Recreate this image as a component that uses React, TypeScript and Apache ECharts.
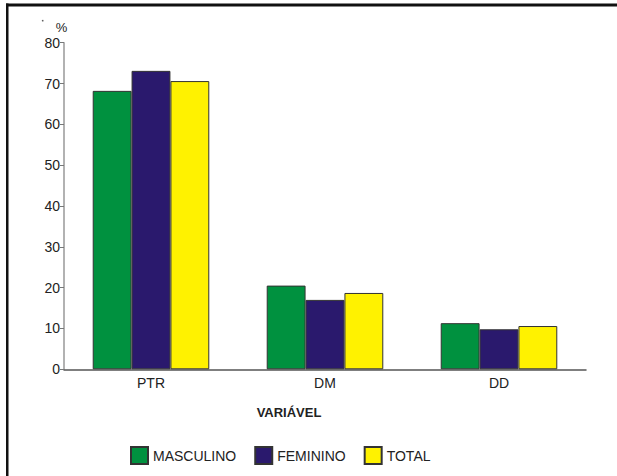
import React, { useEffect, useRef } from "react";
import * as echarts from "echarts";

const categories = ["PTR", "DM", "DD"];
const seriesNames = ["MASCULINO", "FEMININO", "TOTAL"];
const masculino = [68.2, 20.5, 11.3];
const feminino = [73.1, 17.0, 9.8];
const total = [70.6, 18.7, 10.6];
const colors = ["#00913F", "#2A196D", "#FFF200"];
const yTicks = { min: 0, max: 80, interval: 10 };

export default function App() {
  const ref = useRef<HTMLDivElement>(null);
  useEffect(() => {
    if (!ref.current) return;
    const chart = echarts.init(ref.current, null, { renderer: "svg" });
    const values = [masculino, feminino, total];
    const font = "'Liberation Sans', Arial, sans-serif";
    chart.setOption({
      animation: false,
      backgroundColor: "#ffffff",
      textStyle: { fontFamily: font },
      grid: { left: 64, right: 31, top: 42.7, bottom: 106.7, containLabel: false },
      legend: {
        left: 130,
        top: 446,
        padding: 0,
        itemWidth: 17,
        itemHeight: 17,
        itemGap: 18,
        icon: "rect",
        textStyle: { fontSize: 14, color: "#222", fontFamily: font },
        data: seriesNames,
      },
      xAxis: {
        type: "category",
        data: categories,
        axisLine: { lineStyle: { color: "#555", width: 1.5 } },
        axisTick: { show: false },
        axisLabel: { fontSize: 14, color: "#222", margin: 7, fontFamily: font },
      },
      yAxis: {
        type: "value",
        min: yTicks.min,
        max: yTicks.max,
        interval: yTicks.interval,
        axisLine: { show: true, lineStyle: { color: "#999", width: 1.5 } },
        axisTick: { show: true, length: 4, lineStyle: { color: "#777" } },
        axisLabel: { fontSize: 14, color: "#222", margin: 4, fontFamily: font },
        splitLine: { show: false },
      },
      series: seriesNames.map((name, i) => ({
        name,
        type: "bar",
        data: values[i],
        barGap: "0%",
        barCategoryGap: "33%",
        itemStyle: { color: colors[i], borderColor: "#333", borderWidth: 1 },
      })),
      graphic: [
        { type: "rect", shape: { x: 6, y: 3.5, width: 611, height: 3 }, style: { fill: "#111" } },
        { type: "rect", shape: { x: 6, y: 3.5, width: 2.5, height: 473 }, style: { fill: "#111" } },
        { type: "text", x: 61.5, y: 27, style: { text: "%", fontSize: 13, fill: "#222", align: "center", verticalAlign: "middle", fontFamily: font } },
        { type: "circle", shape: { cx: 42.7, cy: 20.7, r: 0.8 }, style: { fill: "#555" } },
        { type: "text", x: 289, y: 412.7, style: { text: "VARIÁVEL", fontSize: 13, fontWeight: "bold", fill: "#222", align: "center", verticalAlign: "middle", fontFamily: font } },
      ],
    });
    return () => chart.dispose();
  }, []);
  return (
    <div
      ref={ref}
      style={{ position: "fixed", left: 0, top: 0, width: 617, height: 476, background: "#fff" }}
    />
  );
}
